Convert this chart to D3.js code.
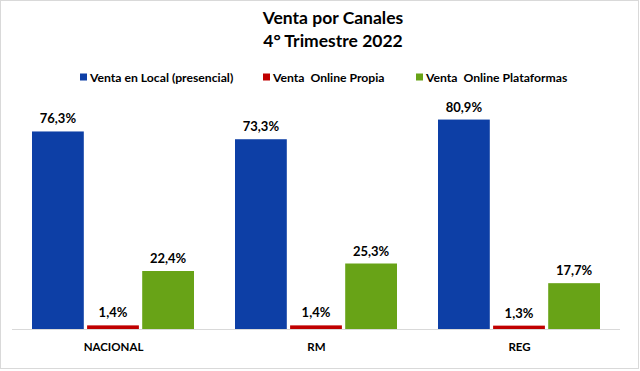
<!DOCTYPE html>
<html><head><meta charset="utf-8">
<script src="https://cdn.jsdelivr.net/npm/d3@7"></script>
<style>body{margin:0;background:#fff}svg{display:block;font-family:Lato,"Open Sans",sans-serif}</style>
</head><body><svg id="c" width="640" height="371"></svg>
<script>
const categories = ["NACIONAL", "RM", "REG"];
const seriesNames = ["Venta en Local (presencial)", "Venta  Online Propia", "Venta  Online Plataformas"];
const localValues = [76.3, 73.3, 80.9];
const propiaValues = [1.4, 1.4, 1.3];
const plataformasValues = [22.4, 25.3, 17.7];
const seriesColors = ["#0d3fa6", "#c00000", "#68a317"];
const titleLines = ["Venta por Canales", "4° Trimestre 2022"];

const seriesValues = [localValues, propiaValues, plataformasValues];
const svg = d3.select("#c");
svg.append("rect").attr("x",0.5).attr("y",0.5).attr("width",638).attr("height",368)
  .attr("fill","#fff").attr("stroke","#d9d9d9");

const plot = {left:12, right:621, top:96, bottom:329};
const x0 = d3.scaleBand().domain(categories).range([plot.left, plot.right]).padding(0);
const x1 = d3.scaleBand().domain(seriesNames).range([20, x0.bandwidth()-21]).paddingInner(0.06);
const y = d3.scaleLinear().domain([0, 90]).range([plot.bottom, plot.top]);

// title
svg.append("g").selectAll("text").data(titleLines).join("text")
  .attr("x", 333).attr("y",(d,i)=>24+i*23).attr("text-anchor","middle")
  .attr("font-size",17.5).attr("font-weight","bold").attr("fill","#000").text(d=>d);

// legend
const legendX = [80, 263, 416];
const lg = svg.append("g").selectAll("g").data(seriesNames).join("g")
  .attr("transform",(d,i)=>`translate(${legendX[i]},77)`);
lg.append("rect").attr("x",0).attr("y",-3.5).attr("width",7).attr("height",7).attr("fill",(d,i)=>seriesColors[i]);
lg.append("text").attr("x",10).attr("y",4.5).attr("font-size",12.2).attr("font-weight","bold")
  .attr("fill","#000").attr("xml:space","preserve").style("white-space","pre").text(d=>d);

// axis line
svg.append("line").attr("x1",plot.left).attr("x2",plot.right-1).attr("y1",plot.bottom+0.5).attr("y2",plot.bottom+0.5)
  .attr("stroke","#d9d9d9");

const groups = svg.append("g").selectAll("g").data(categories).join("g")
  .attr("transform",d=>`translate(${x0(d)},0)`);
groups.each(function(cat, ci){
  const g = d3.select(this);
  seriesNames.forEach((s, si)=>{
    const v = seriesValues[si][ci];
    g.append("rect").attr("x",x1(s)).attr("y",y(v)).attr("width",x1.bandwidth())
      .attr("height",plot.bottom-y(v)).attr("fill",seriesColors[si]);
    g.append("text").attr("x",x1(s)+x1.bandwidth()/2).attr("y",y(v)-8)
      .attr("text-anchor","middle").attr("font-size",13).attr("font-weight","bold").attr("fill","#000")
      .text(d3.format(".1f")(v).replace(".",",")+"%");
  });
});

// category axis labels
svg.append("g").selectAll("text").data(categories).join("text")
  .attr("x",d=>x0(d)+x0.bandwidth()/2).attr("y",351).attr("text-anchor","middle")
  .attr("font-size",11.5).attr("font-weight","bold").attr("fill","#000").text(d=>d);
</script></body></html>
